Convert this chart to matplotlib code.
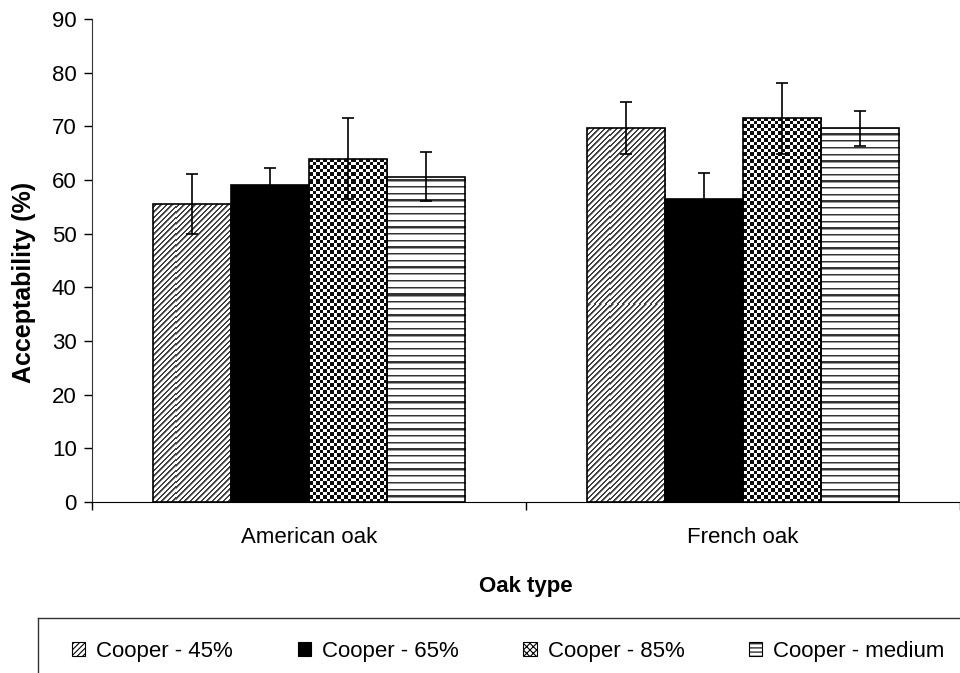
import matplotlib
matplotlib.use("Agg")
import matplotlib.pyplot as plt
from matplotlib.patches import Patch
from matplotlib.lines import Line2D
import numpy as np

plt.rcParams['font.family'] = ['Liberation Sans', 'DejaVu Sans']
plt.rcParams['hatch.linewidth'] = 0.8

categories = ["American oak", "French oak"]
series = ["Cooper - 45%", "Cooper - 65%", "Cooper - 85%", "Cooper - medium"]
values = [
    [55.5, 69.7],
    [59.0, 56.5],
    [64.0, 71.5],
    [60.6, 69.6],
]
errors = [
    [5.6, 4.9],
    [3.3, 4.8],
    [7.5, 6.6],
    [4.6, 3.2],
]
patterns = ['diag', 'solid', 'checker', 'hlines']
legend_hatches = ['//////', None, 'xxxxx', '----']

W, H = 960, 673
AX_L, AX_R, AX_T, AX_B = 92, 960, 19, 502
aw, ah = AX_R - AX_L, AX_B - AX_T

fig = plt.figure(figsize=(W / 100, H / 100), dpi=100)
ax = fig.add_axes([AX_L / W, 1 - AX_B / H, aw / W, ah / H])

rr, cc = np.mgrid[0:ah, 0:aw].astype(float)


def texture(kind):
    img = np.ones((ah, aw))
    if kind == 'diag':
        d = (cc + rr) % 5.5
        img[d < 1.6] = 0.25
        img[(d >= 1.6) & (d < 2.4)] = 0.6
    elif kind == 'checker':
        chk = ((np.floor(cc / 3.5) + np.floor(rr / 3.5)) % 2) == 0
        img[chk] = 0.05
    elif kind == 'hlines':
        d = rr % 6.7
        img[d < 1.3] = 0.2
        img[(d >= 1.3) & (d < 2.3)] = 0.6
    return img


x = np.arange(len(categories))
w = 0.18
for i, s in enumerate(series):
    pos = x + (i - 1.5) * w
    solid = patterns[i] == 'solid'
    bars = ax.bar(pos, values[i], width=w, color='black' if solid else 'none',
                  edgecolor='black', linewidth=1.2, zorder=3)
    if not solid:
        tex = texture(patterns[i])
        for b in bars:
            im = ax.imshow(tex, cmap='gray', vmin=0, vmax=1, extent=(0, 1, 0, 1),
                           transform=ax.transAxes, interpolation='nearest',
                           aspect='auto', zorder=2)
            im.set_clip_path(b)
    ax.errorbar(pos, values[i], yerr=errors[i], fmt='none', ecolor='black',
                elinewidth=1.2, capsize=4.5, capthick=1.2, zorder=4)

ax.set_xlim(-0.5, 1.5)
ax.set_ylim(0, 90)
ax.set_aspect('auto')
ax.set_yticks(np.arange(0, 91, 10))
ax.set_xticks(x)
ax.set_xticklabels(categories, fontsize=16)
ax.set_xticks([-0.5, 0.5, 1.5], minor=True)
ax.tick_params(axis='x', which='major', length=0, pad=18)
ax.tick_params(axis='x', which='minor', length=6, direction='out', width=1)
ax.tick_params(axis='y', labelsize=16, length=6, direction='out', pad=5, width=1)
for sp in ['top', 'right']:
    ax.spines[sp].set_visible(False)
ax.spines['left'].set_color('#333333')
ax.set_ylabel('Acceptability (%)', fontsize=18, fontweight='bold')
ax.yaxis.set_label_coords(-0.064, 0.455)
ax.set_xlabel('Oak type', fontsize=16, fontweight='bold', labelpad=20)

handles = [Patch(facecolor='black' if legend_hatches[i] is None else 'white',
                 edgecolor='black', hatch=legend_hatches[i], linewidth=0.8,
                 label=series[i]) for i in range(len(series))]
leg = fig.legend(handles=handles, loc='center left',
                 bbox_to_anchor=(72 / W, 1 - 651 / H), ncol=4, fontsize=16,
                 frameon=False, handlelength=0.6, handleheight=0.6,
                 handletextpad=0.5, columnspacing=2.9, borderpad=0,
                 borderaxespad=0)

# legend box (extends past the figure edge on right and bottom)
fig.add_artist(Line2D([38 / W, 1.0], [1 - 618 / H, 1 - 618 / H],
                      transform=fig.transFigure, color='#333333', lw=1))
fig.add_artist(Line2D([38 / W, 38 / W], [1 - 618 / H, 0],
                      transform=fig.transFigure, color='#333333', lw=1))

fig.savefig('out.png', dpi=100)
